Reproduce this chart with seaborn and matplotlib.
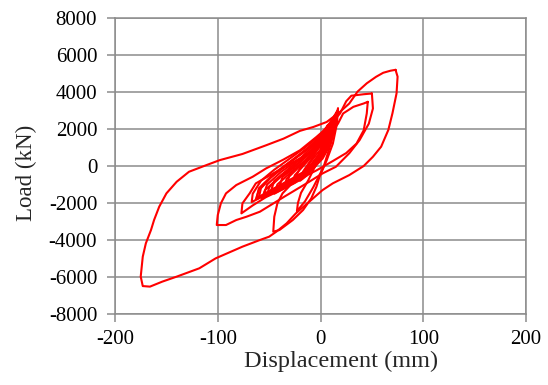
import pandas as pd
import seaborn as sns
import matplotlib.pyplot as plt

# hysteresis loops (displacement mm, load kN)
loop_a_x = [73, 75, 74, 70, 66, 59, 51, 42, 28, 12, 2, -11, -24, -33, -43, -50, -59, -76, -102, -118,
            -140, -154, -166, -173, -175, -173, -170, -165, -162, -157, -150, -140, -128, -111, -98,
            -76, -53, -36, -20, -7, 6, 19, 28, 36, 45, 54, 61, 68, 72, 73]
loop_a_y = [5200, 4830, 3930, 2850, 1950, 1045, 500, 0, -490, -935, -1300, -1930, -2560, -3100, -3550,
            -3820, -4000, -4360, -4990, -5530, -5980, -6250, -6520, -6490, -5980, -4900, -4180,
            -3460, -2920, -2200, -1480, -850, -310, 50, 320, 650, 1120, 1480, 1900, 2110, 2380, 2930,
            3380, 4020, 4470, 4820, 5040, 5150, 5190, 5200]

loop_b_x = [50, 51, 47, 38, 28, 15, 2, -11, -35, -59, -72, -82, -92, -101, -100, -97, -92, -82, -66,
            -53, -36, -20, -4, 9, 19, 25, 30, 42, 50]
loop_b_y = [3920, 3110, 2290, 1400, 690, -40, -400, -850, -1650, -2470, -2740, -2920, -3190, -3190,
            -2650, -2020, -1480, -1030, -580, -130, 350, 850, 1570, 2200, 2840, 3500, 3800, 3880, 3920]

loop_c_x = [46, 45, 42, 35, 25, 12, -4, -20, -36, -53, -66, -77, -76, -69, -63, -46, -30, -14, -1, 9,
            17, 22, 32, 42, 46]
loop_c_y = [3470, 2840, 1930, 1210, 700, 270, -240, -690, -1230, -1680, -2130, -2560, -2020, -1480,
            -940, -400, 100, 600, 1100, 1700, 2290, 2840, 3200, 3380, 3470]

loop_d_x = [17, 16, 12, 6, -1, -4, -9, -17, -27, -40, -46, -45, -42, -37, -27, -14, -1, 9, 16, 17]
loop_d_y = [3110, 2290, 1210, 310, -580, -1120, -1750, -2380, -2920, -3460, -3550, -2740, -2020, -1480,
            -900, -240, 670, 1750, 2840, 3110]

loop_e_x = [14, 12, 9, 3, -7, -15, -23, -22, -19, -12, -4, 6, 12, 14]
loop_e_y = [2750, 1930, 1030, -50, -1140, -1900, -2450, -2000, -1450, -780, 130, 1210, 2290, 2750]

loop_f_x = [16, 15, 10, 2, -10, -25, -45, -60, -67, -66, -58, -45, -30, -15, 0, 10, 16]
loop_f_y = [2950, 2200, 1200, 400, -300, -800, -1300, -1750, -1950, -1500, -800, -200, 400, 1000, 1700,
            2400, 2950]

loop_g_x = [14, 12, 6, -5, -20, -40, -55, -60, -58, -48, -32, -15, 0, 9, 14]
loop_g_y = [2700, 1900, 900, 100, -500, -1100, -1550, -1700, -1200, -600, 100, 800, 1500, 2200, 2700]

loop_h_x = [12, 10, 3, -10, -30, -48, -55, -52, -38, -20, -5, 7, 12]
loop_h_y = [2600, 1700, 700, -100, -800, -1300, -1500, -1000, -300, 400, 1200, 2000, 2600]

loop_i_x = [10, 8, 0, -15, -35, -48, -45, -30, -12, 2, 8, 10]
loop_i_y = [2400, 1500, 500, -300, -900, -1300, -800, -100, 700, 1500, 2000, 2400]

loop_j_x = [9, 6, -3, -20, -40, -37, -22, -8, 5, 9]
loop_j_y = [2300, 1300, 300, -500, -1100, -600, 100, 900, 1800, 2300]

loop_k_x = [7, 4, -5, -20, -32, -30, -15, 0, 7]
loop_k_y = [2100, 1100, 200, -500, -900, -400, 300, 1100, 2100]

loop_l_x = [6, 2, -8, -24, -20, -8, 2, 6]
loop_l_y = [1900, 900, 0, -600, -100, 600, 1300, 1900]

loop_m_x = [4, 0, -8, -15, -10, 0, 4]
loop_m_y = [1500, 600, -100, -300, 200, 900, 1500]

loop_n_x = [2, -2, -8, -5, 0, 2]
loop_n_y = [1100, 400, -50, 300, 800, 1100]

loop_o_x = [15, 13, 5, -10, -30, -50, -63, -60, -50, -35, -18, -3, 10, 15]
loop_o_y = [2800, 2000, 800, -200, -900, -1500, -1800, -1300, -700, 0, 700, 1400, 2300, 2800]

loop_p_x = [13, 10, 0, -20, -40, -57, -54, -40, -25, -10, 5, 13]
loop_p_y = [2500, 1500, 400, -700, -1300, -1750, -1300, -600, 0, 700, 1700, 2500]

loop_q_x = [11, 6, -5, -25, -45, -42, -28, -10, 4, 11]
loop_q_y = [2200, 1000, 0, -900, -1500, -1000, -300, 500, 1500, 2200]

loop_r_x = [14, 12, 4, -8, -28, -48, -62, -60, -45, -28, -12, 3, 11, 14]
loop_r_y = [2650, 1800, 700, -100, -800, -1350, -1700, -1200, -400, 300, 1000, 1800, 2300, 2650]

loop_s_x = [12, 9, 0, -15, -35, -52, -50, -36, -18, -2, 8, 12]
loop_s_y = [2450, 1500, 400, -400, -1050, -1600, -1150, -450, 300, 1200, 1900, 2450]

loop_t_x = [10, 7, -2, -18, -36, -33, -18, -4, 6, 10]
loop_t_y = [2300, 1400, 300, -600, -1200, -700, 100, 1000, 1800, 2300]

loop_u_x = [8, 4, -5, -18, -28, -25, -12, 2, 8]
loop_u_y = [2000, 1000, 0, -700, -1000, -500, 300, 1200, 2000]

loop_v_x = [7, 4, -4, -13, -20, -17, -6, 3, 7]
loop_v_y = [2200, 1200, 200, -500, -800, -300, 600, 1500, 2200]

loops = {
    "a": (loop_a_x, loop_a_y), "b": (loop_b_x, loop_b_y), "c": (loop_c_x, loop_c_y),
    "d": (loop_d_x, loop_d_y), "e": (loop_e_x, loop_e_y), "f": (loop_f_x, loop_f_y),
    "g": (loop_g_x, loop_g_y), "h": (loop_h_x, loop_h_y), "i": (loop_i_x, loop_i_y),
    "j": (loop_j_x, loop_j_y), "k": (loop_k_x, loop_k_y), "l": (loop_l_x, loop_l_y),
    "m": (loop_m_x, loop_m_y), "n": (loop_n_x, loop_n_y), "o": (loop_o_x, loop_o_y),
    "p": (loop_p_x, loop_p_y), "q": (loop_q_x, loop_q_y), "r": (loop_r_x, loop_r_y),
    "s": (loop_s_x, loop_s_y), "t": (loop_t_x, loop_t_y), "u": (loop_u_x, loop_u_y),
    "v": (loop_v_x, loop_v_y),
}
df = pd.concat(
    [pd.DataFrame({"disp": xs, "load": ys, "loop": name}) for name, (xs, ys) in loops.items()],
    ignore_index=True,
)

sns.set_style("white")
plt.rcParams["font.family"] = ["Liberation Serif", "DejaVu Serif"]
plt.rcParams["axes.unicode_minus"] = False

fig = plt.figure(figsize=(5.48, 3.85), dpi=100)
ax = fig.add_axes([0.2099, 0.1844, 0.75, 0.7688])

sns.lineplot(data=df, x="disp", y="load", units="loop", estimator=None, sort=False,
             color="#ff0000", linewidth=1.5, ax=ax)

ax.set_xlim(-200, 200)
ax.set_ylim(-8000, 8000)
ax.set_xticks([-200, -100, 0, 100, 200])
ax.set_yticks(range(-8000, 8001, 2000))
ax.grid(True, color="#8c8c8c", linewidth=1.1)
for s in ax.spines.values():
    s.set_color("#8c8c8c")
    s.set_linewidth(1.1)
ax.tick_params(axis="both", which="both", direction="out", length=5.8, width=1.1,
               color="#8c8c8c", labelsize=15, labelcolor="black")
ax.tick_params(axis="y", pad=7)
ax.tick_params(axis="x", pad=6)
ax.tick_params(left=True, bottom=True)
ax.set_xlabel("Displacement (mm)", fontsize=17.5)
ax.xaxis.set_label_coords(0.549, -0.125)
ax.set_ylabel("Load (kN)", fontsize=16.5)
ax.yaxis.set_label_coords(-0.19, 0.476)

fig.savefig("out.png", dpi=100)
